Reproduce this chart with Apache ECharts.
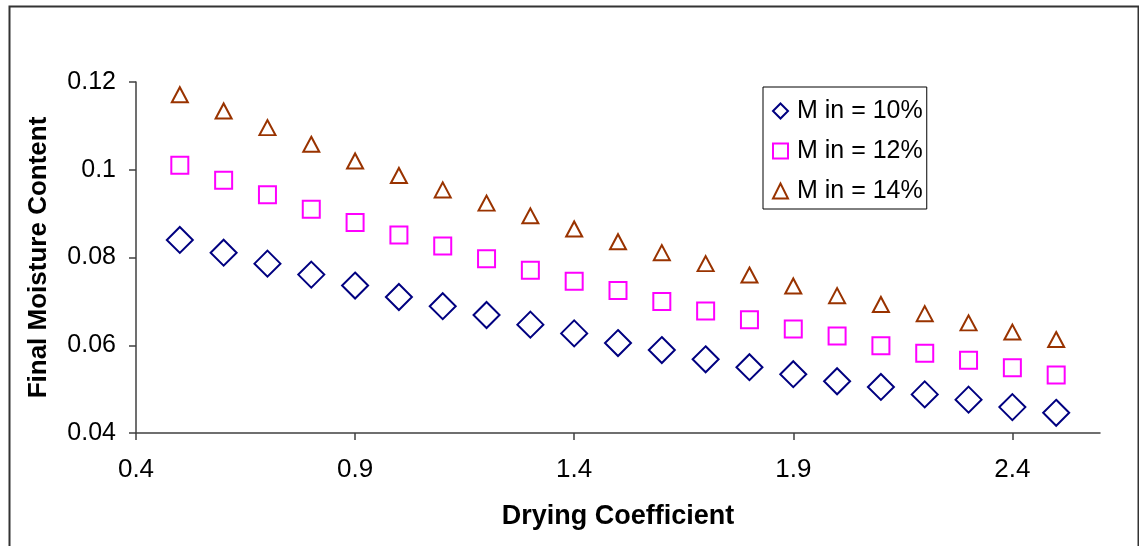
<!DOCTYPE html>
<html>
<head>
<meta charset="utf-8">
<script src="https://cdn.jsdelivr.net/npm/echarts@6/dist/echarts.min.js"></script>
<style>
html,body{margin:0;padding:0;background:#fff;}
#chart{width:1139px;height:546px;}
</style>
</head>
<body>
<div id="chart"></div>
<script>
// Drying coefficient (x) values
var dryingCoef = [0.5,0.6,0.7,0.8,0.9,1.0,1.1,1.2,1.3,1.4,1.5,1.6,1.7,1.8,1.9,2.0,2.1,2.2,2.3,2.4,2.5];
// Final moisture content for each initial moisture
var m10 = [0.0840,0.0811,0.0786,0.0761,0.0736,0.0710,0.0689,0.0669,0.0647,0.0627,0.0605,0.0589,0.0568,0.0550,0.0534,0.0518,0.0505,0.0488,0.0476,0.0459,0.0446];
var m12 = [0.1010,0.0976,0.0943,0.0910,0.0880,0.0851,0.0826,0.0797,0.0771,0.0746,0.0725,0.0700,0.0678,0.0658,0.0637,0.0621,0.0599,0.0582,0.0566,0.0549,0.0532];
var m14 = [0.1171,0.1134,0.1096,0.1058,0.1020,0.0987,0.0954,0.0924,0.0895,0.0865,0.0836,0.0811,0.0786,0.0760,0.0735,0.0713,0.0693,0.0672,0.0651,0.0630,0.0613];
var seriesNames = ['M in = 10%','M in = 12%','M in = 14%'];
var xTicks = [0.4,0.9,1.4,1.9,2.4];
var yTicks = [0.04,0.06,0.08,0.1,0.12];

function pairs(ys){ return dryingCoef.map(function(x,i){ return [x, ys[i]]; }); }

var FONT = '"Liberation Sans", Arial, sans-serif';
var chart = echarts.init(document.getElementById('chart'), null, {renderer:'canvas'});
var axisColor = '#404040';
chart.setOption({
  animation: false,
  backgroundColor: '#fff',
  graphic: [{
    type: 'rect', left: 7, top: 4, z: 100, silent: true,
    shape: {x: 0, y: 0, width: 1129, height: 600},
    style: {fill: 'none', stroke: '#333', lineWidth: 2}
  }],
  grid: {left: 136, right: 39, top: 82, bottom: 113, containLabel: false},
  legend: {
    orient: 'vertical', left: 763, top: 87,
    backgroundColor: '#fff', borderColor: '#000', borderWidth: 1,
    padding: [10, 4, 4, 9],
    itemWidth: 15, itemHeight: 15, itemGap: 12,
    textStyle: {fontFamily: FONT, fontSize: 25, color: '#000', lineHeight: 28, padding: [0,0,0,4]},
    data: seriesNames
  },
  xAxis: {
    type: 'value', min: 0.4, max: 2.6, interval: 0.5,
    name: 'Drying Coefficient', nameLocation: 'middle', nameGap: 70,
    nameTextStyle: {fontFamily: FONT, fontSize: 27, fontWeight: 'bold', color: '#000'},
    axisLine: {show: true, onZero: false, lineStyle: {color: axisColor, width: 1.5}},
    axisTick: {show: true, inside: false, length: 7, lineStyle: {color: axisColor, width: 1.5}, customValues: xTicks},
    axisLabel: {fontFamily: FONT, fontSize: 26, color: '#000', margin: 24, customValues: xTicks,
      formatter: function(v){ return String(+(+v).toFixed(2)); }},
    splitLine: {show: false}
  },
  yAxis: {
    type: 'value', min: 0.04, max: 0.12, interval: 0.02,
    name: 'Final Moisture Content', nameLocation: 'middle', nameGap: 84, nameRotate: 90,
    nameTextStyle: {fontFamily: FONT, fontSize: 26, fontWeight: 'bold', color: '#000'},
    axisLine: {show: true, onZero: false, lineStyle: {color: axisColor, width: 1.5}},
    axisTick: {show: true, inside: false, length: 7, lineStyle: {color: axisColor, width: 1.5}},
    axisLabel: {fontFamily: FONT, fontSize: 25, color: '#000', margin: 20,
      formatter: function(v){ return String(+(+v).toFixed(2)); }},
    splitLine: {show: false}
  },
  series: [
    {name: seriesNames[0], type: 'scatter', data: pairs(m10), symbol: 'diamond', symbolSize: 26,
     itemStyle: {color: '#fff', borderColor: '#000080', borderWidth: 2, opacity: 1}},
    {name: seriesNames[1], type: 'scatter', data: pairs(m12), symbol: 'rect', symbolSize: 17,
     itemStyle: {color: '#fff', borderColor: '#FF00FF', borderWidth: 2, opacity: 1}},
    {name: seriesNames[2], type: 'scatter', data: pairs(m14), symbol: 'triangle', symbolSize: [16, 15],
     itemStyle: {color: '#fff', borderColor: '#993300', borderWidth: 2, opacity: 1}}
  ]
});
</script>
</body>
</html>
